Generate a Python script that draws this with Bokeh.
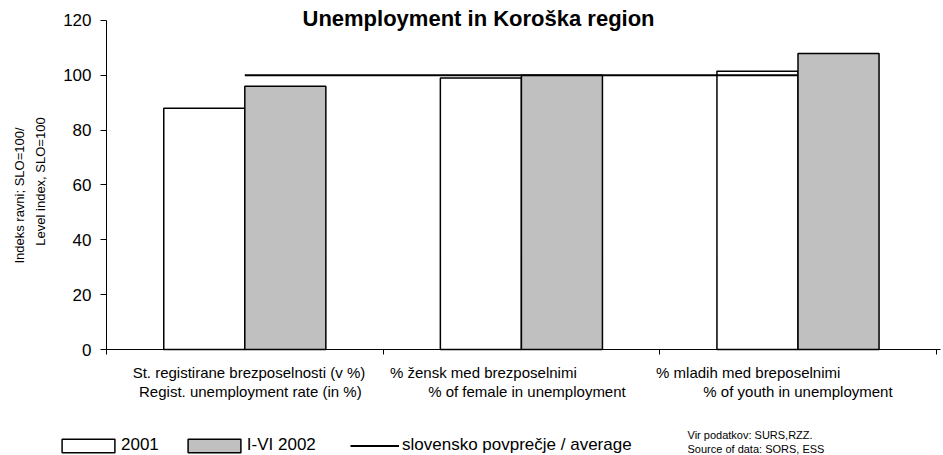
import numpy as np
from bokeh.plotting import figure
from bokeh.core.properties import value
from bokeh.models import (Range1d, FixedTicker, Label, LabelSet, ColumnDataSource,
                          Legend, LegendItem)
from bokeh.embed import file_html
from bokeh.resources import INLINE

# ---------------- data ----------------
title_text = "Unemployment in Koroška region"
categories_si = ["St. registirane brezposelnosti (v %)",
                 "% žensk med  brezposelnimi",
                 "% mladih med breposelnimi"]
categories_en = ["Regist. unemployment rate (in %)",
                 "% of female in unemployment",
                 "% of youth in unemployment"]
values_2001 = [88, 99, 101.5]
values_2002 = [96, 100, 108]
slo_average = [100, 100, 100]
y_ticks = [0, 20, 40, 60, 80, 100, 120]
y_max = 120
series_names = ["2001", "I-VI 2002", "slovensko povprečje / average"]
y_label_lines = ["Indeks ravni; SLO=100/", "Level index, SLO=100"]
source_lines = ["Vir podatkov: SURS,RZZ.", "Source of data: SORS, ESS"]

# ---------------- layout (pixels) ----------------
FONT = "Liberation Sans"
GRAY = "#C0C0C0"
W, H = 943, 455
AX_X, AX_Y = 106, 349          # page position of the axes origin
PX_PER_CAT = 276.6
PX_PER_Y = 2.7417
bar_w = 0.293
n = len(categories_si)
x_end_axis = n + 0.015

centers = np.arange(n) + 0.5
line1_shift = [0.015, -0.13, -0.18]   # label nudges (category units)
line2_shift = [0.02, 0.02, 0.0]

x_range = Range1d(-AX_X / PX_PER_CAT, (W - AX_X) / PX_PER_CAT)
y_range = Range1d(-(H - AX_Y) / PX_PER_Y, AX_Y / PX_PER_Y)

p = figure(width=W, height=H, output_backend="svg", toolbar_location=None,
           x_range=x_range, y_range=y_range, min_border=0, title=None)
p.background_fill_color = "white"
p.border_fill_color = "white"
p.outline_line_color = None
p.xgrid.visible = False
p.ygrid.visible = False

ya = p.yaxis[0]
ya.fixed_location = 0
ya.bounds = (0, y_max)
ya.ticker = FixedTicker(ticks=y_ticks)
ya.axis_line_color = "black"
ya.major_tick_line_color = "black"
ya.major_tick_out = 6
ya.major_tick_in = 0
ya.minor_tick_line_color = None
ya.major_label_text_font = FONT
ya.major_label_text_font_size = "17px"
ya.major_label_text_color = "black"
ya.major_label_standoff = 9

xa = p.xaxis[0]
xa.fixed_location = 0
xa.bounds = (0, x_end_axis)
xa.ticker = FixedTicker(ticks=list(range(n + 1)))
xa.axis_line_color = "black"
xa.major_tick_line_color = "black"
xa.major_tick_out = 5
xa.major_tick_in = 0
xa.minor_tick_line_color = None
xa.major_label_text_font_size = "0px"
xa.major_label_text_color = None

r1 = p.vbar(x=centers - bar_w / 2, width=bar_w, top=values_2001, bottom=0,
            fill_color="white", line_color="black", line_width=1.5)
r2 = p.vbar(x=centers + bar_w / 2, width=bar_w, top=values_2002, bottom=0,
            fill_color=GRAY, line_color="black", line_width=1.5)
r3 = p.line(x=centers, y=slo_average, line_color="black", line_width=2)

# category labels (two lines under each group)
for texts, shift, page_y in ((categories_si, line1_shift, 377.5),
                             (categories_en, line2_shift, 396.5)):
    src = ColumnDataSource(dict(x=centers + np.array(shift), text=texts))
    p.add_layout(LabelSet(x="x", y=H - page_y, y_units="screen", text="text",
                          source=src, text_align="center",
                          text_baseline="alphabetic", text_font=value(FONT),
                          text_font_size=value("15px"), text_color="black"))

# y axis title (two rotated lines)
for txt, px, py in ((y_label_lines[0], 19, 195), (y_label_lines[1], 40, 181)):
    p.add_layout(Label(x=px, y=H - py, x_units="screen", y_units="screen", text=txt,
                       angle=np.pi / 2, text_align="center", text_baseline="middle",
                       text_font=FONT, text_font_size="13px", text_color="black"))

# chart title
p.add_layout(Label(x=302, y=H - 18, x_units="screen", y_units="screen", text=title_text,
                   text_align="left", text_baseline="alphabetic", text_font=FONT,
                   text_font_size="22px", text_font_style="bold", text_color="black"))

# legend: bar swatches and average line
legend_bars = Legend(items=[LegendItem(label=series_names[0], renderers=[r1]),
                            LegendItem(label=series_names[1], renderers=[r2])],
                     orientation="horizontal", location=(55, 0),
                     glyph_width=66, glyph_height=17, label_height=13,
                     label_text_font=FONT, label_text_font_size="17px",
                     label_text_color="black", label_standoff=0, spacing=22,
                     padding=0, margin=0, border_line_color=None,
                     background_fill_alpha=0)
legend_line = Legend(items=[LegendItem(label=series_names[2], renderers=[r3])],
                     orientation="horizontal", location=(350, 0),
                     glyph_width=49, glyph_height=17, label_height=13,
                     label_text_font=FONT, label_text_font_size="17px",
                     label_text_color="black", label_standoff=3, spacing=0,
                     padding=0, margin=0, border_line_color=None,
                     background_fill_alpha=0)
p.add_layout(legend_bars)
p.add_layout(legend_line)

# source note
for txt, py in ((source_lines[0], 434), (source_lines[1], 448)):
    p.add_layout(Label(x=687, y=H - py, x_units="screen", y_units="screen", text=txt,
                       text_align="left", text_baseline="alphabetic", text_font=FONT,
                       text_font_size="11px", text_color="black"))

open("out.html", "w").write(file_html(p, INLINE))
